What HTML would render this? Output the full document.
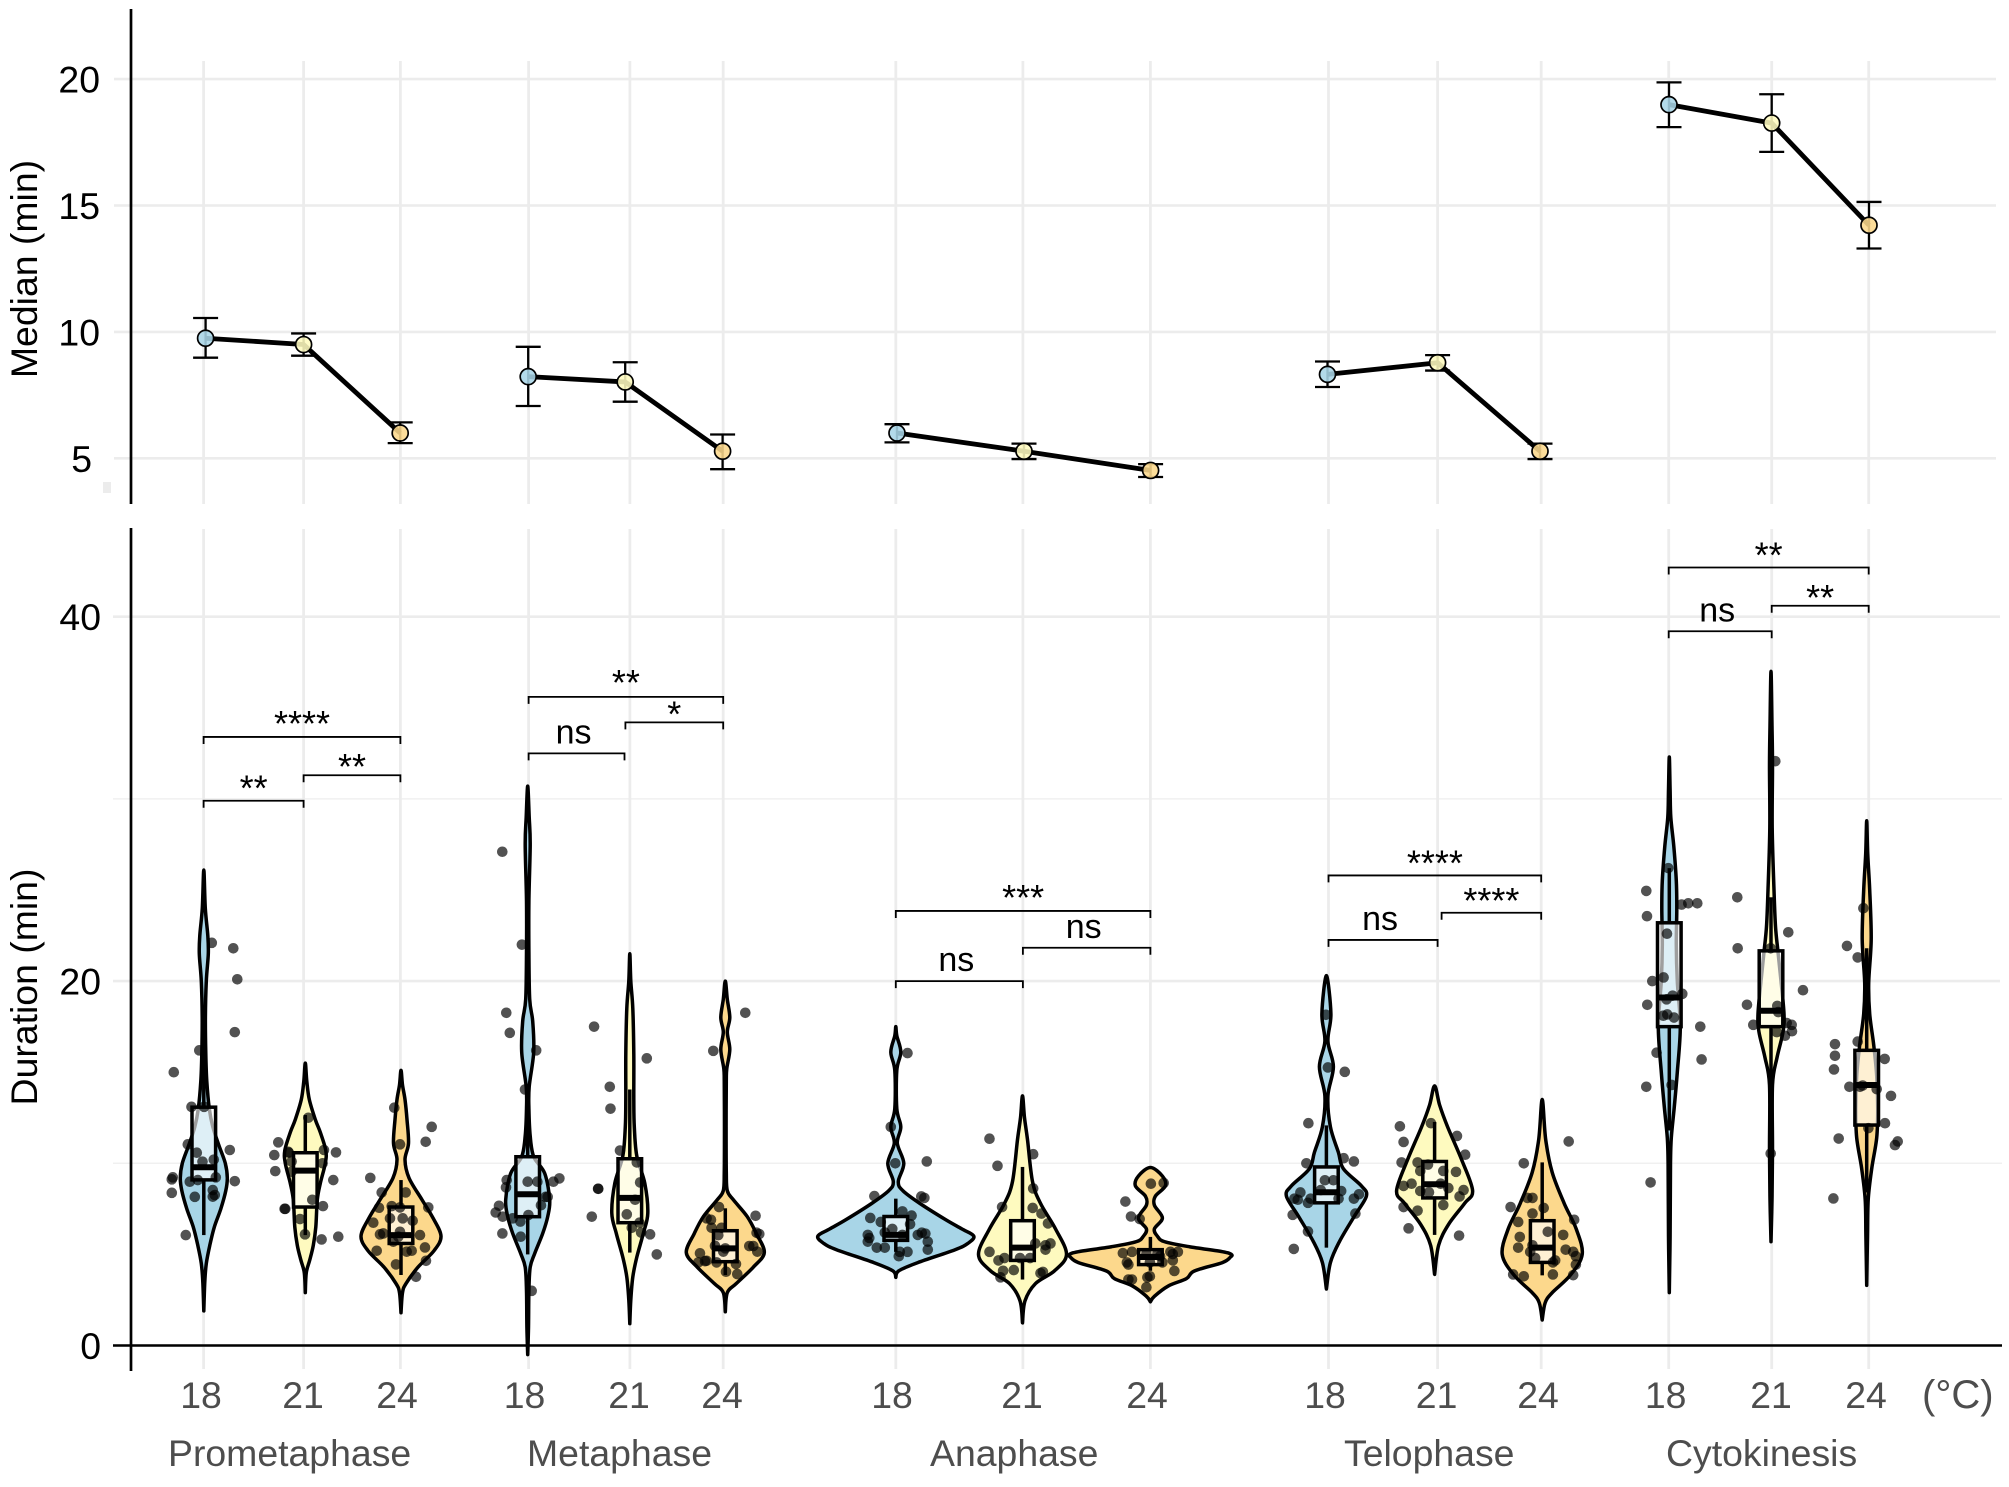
<!DOCTYPE html>
<html lang="en">
<head>
<meta charset="utf-8">
<title>Mitotic phase duration by temperature</title>
<style>
html,body{margin:0;padding:0;background:#fff;}
svg{display:block;font-family:"Liberation Sans",Arial,sans-serif;}
</style>
</head>
<body>
<svg id="chart" xmlns="http://www.w3.org/2000/svg" width="2009" height="1487" viewBox="0 0 2009 1487">
  <rect x="0" y="0" width="2009" height="1487" fill="#fff"/>
  <g id="grid-layer"></g>
  <rect x="103" y="482" width="8" height="11" fill="#ececec"/>
  <g id="top-layer"></g>
  <g id="violin-layer"></g>
  <g id="bracket-layer"></g>
  <g id="axis-layer">
    <line x1="131" y1="9" x2="131" y2="504" stroke="#000" stroke-width="2.7"/>
    <line x1="131" y1="528" x2="131" y2="1371" stroke="#000" stroke-width="2.7"/>
    <line x1="113" y1="1345.5" x2="2002" y2="1345.5" stroke="#000" stroke-width="2.6"/>
  </g>
  <g id="label-layer"></g>
  <text transform="translate(37,269) rotate(-90)" text-anchor="middle" font-size="37.4" fill="#000">Median (min)</text>
  <text transform="translate(37,987) rotate(-90)" text-anchor="middle" font-size="37.4" fill="#000">Duration (min)</text>
  <text x="1922" y="1408" font-size="40" fill="#4d4d4d">(°C)</text>
  <text x="168" y="1466" font-size="37.4" fill="#4d4d4d">Prometaphase</text>
  <text x="527" y="1466" font-size="37.4" fill="#4d4d4d">Metaphase</text>
  <text x="930" y="1466" font-size="37.4" fill="#4d4d4d">Anaphase</text>
  <text x="1344" y="1466" font-size="37.4" fill="#4d4d4d">Telophase</text>
  <text x="1666" y="1466" font-size="37.4" fill="#4d4d4d">Cytokinesis</text>
</svg>
<script>
/* ---------- chart data ---------- */
const temperatures = ['18', '21', '24'];
const medianTicks = [5, 10, 15, 20];
const durationMajorTicks = [0, 20, 40];
const durationMinorTicks = [10, 30];

// Top panel: medians with error bars, 15 conditions in phase order
const medianValues = [9.75, 9.5, 6.0, 8.23, 8.02, 5.28, 6.0, 5.28, 4.52, 8.32, 8.78, 5.28, 18.99, 18.26, 14.22];
const errorUpper = [10.55, 9.94, 6.42, 9.41, 8.8, 5.94, 6.35, 5.58, 4.77, 8.83, 9.08, 5.58, 19.87, 19.4, 15.14];
const errorLower = [8.98, 9.06, 5.6, 7.07, 7.24, 4.57, 5.63, 4.97, 4.26, 7.82, 8.47, 4.97, 18.1, 17.12, 13.3];

// Box plot statistics (minutes)
const boxQ1 = [9.09, 7.6, 5.6, 7.07, 6.74, 4.6, 5.77, 4.67, 4.44, 7.83, 8.1, 4.56, 17.5, 17.5, 12.1];
const boxMedian = [9.78, 9.6, 6.06, 8.3, 8.1, 5.33, 6.07, 5.37, 4.86, 8.41, 8.85, 5.37, 19.1, 18.37, 14.3];
const boxQ3 = [13.08, 10.58, 7.6, 10.36, 10.25, 6.3, 7.08, 6.85, 5.26, 9.8, 10.1, 6.85, 23.2, 21.66, 16.2];
const whiskerLow = [6.06, 6.06, 3.87, 5, 5.1, 3.87, 5.14, 3.62, 4.1, 5.37, 6.07, 3.85, 11.8, 14.1, 8.4];
const whiskerHigh = [17.1, 12.65, 9.08, 14.2, 14.05, 7.53, 8.06, 9.8, 5.96, 12.08, 12.27, 10.05, 26.2, 24.6, 21.8];

// Violin profiles: [minutes, density width]
const prometa18Density = [[1.9,0],[3.5,1],[4.5,2.5],[5.5,6],[6.5,10.5],[7.5,17],[8.5,22],[9.2,23.5],[10,21.5],[11,15],[12,9],[13,5.5],[14.5,3],[16,2],[18,1.6],[20,2.5],[21.5,4.5],[22.5,4],[24,1.5],[26.1,0]];
const prometa21Density = [[2.9,0],[4,1],[4.7,4.5],[5.5,8],[6.5,10.5],[8,12],[8.9,15],[10,20],[10.7,20.5],[11.7,15],[12.4,10],[13.5,4],[14.5,1.5],[15.5,0]];
const prometa24Density = [[1.8,0],[2.9,1.5],[3.4,5],[4.3,17],[5.2,33],[6,40],[7,32],[8,21],[9.2,8],[10.2,4],[11.1,7.5],[12.4,6],[13.5,4],[14.3,1.5],[15.1,0]];
const meta18Density = [[-0.5,0],[1,0.8],[3,1.2],[4.3,2.5],[5.05,7],[6.15,15],[7.07,20],[8,22],[9.45,17],[10.36,6],[11.5,2.5],[13,1.2],[14.2,1.5],[16.1,6],[17.8,5],[19,2],[21.6,1.2],[24.4,1.2],[27.5,2.5],[29,1.5],[30.7,0]];
const meta21Density = [[1.2,0],[2.5,1],[3.76,3],[4.85,7],[6.15,13.5],[7.26,18],[8.9,15],[10.4,7],[12,4.5],[13.5,4],[16,4],[18.5,3],[20,1],[21.5,0]];
const meta24Density = [[1.85,0],[2.9,2],[3.4,11],[4.3,28],[5.1,39],[6.15,31],[7.07,22],[8,8],[8.5,2],[9.5,1],[12,0.8],[14.5,1],[15.2,1.5],[16.25,4.5],[17.2,2],[18,4.5],[19,2],[20,0]];
const ana18Density = [[3.74,0],[4.1,3],[4.55,22],[5.25,59],[5.6,72],[6,78],[6.4,66],[6.9,50],[7.8,24],[8.5,7],[9,2.5],[10,8],[11.1,1.5],[12,5],[13,1],[15.1,1],[16.1,5],[17,1],[17.5,0]];
const ana21Density = [[1.24,0],[2.45,2.5],[3.4,13],[4.1,32],[5,44],[6.4,33],[7.8,18],[9,10],[11.3,5],[12.5,2],[13.7,0]];
const ana24Density = [[2.4,0],[2.7,4],[3.27,18],[3.67,36],[4.09,44],[4.55,72],[4.85,80],[5,81],[5.15,72],[5.42,39],[5.7,14],[6,7],[6.4,4],[7,12],[7.7,4],[8.2,5],[8.76,15],[9.3,12],[9.77,0]];
const telo18Density = [[3.1,0],[4.55,4],[5.7,13],[7.1,28],[8.2,40],[8.76,35],[9.7,17],[10.6,12],[12,4],[13.7,1.5],[15.3,7],[16.7,1.5],[18.2,4.5],[20.3,0]];
const telo21Density = [[3.9,0],[5.5,4],[6.65,14],[7.8,30],[8.5,38],[10.2,27],[12,13],[13.2,5],[14.25,0]];
const telo24Density = [[1.4,0],[2.35,3],[2.9,10],[3.85,28],[5,40],[6.4,34],[7.8,22],[9.5,10],[11.3,3.5],[13.5,0]];
const cyto18Density = [[2.9,0],[6,0.8],[10,1.2],[11.4,2],[13.1,5],[15,8],[17.5,11],[20,8],[22,7],[24,7.5],[25.5,7],[27.4,4.5],[29,1.5],[30.5,0.8],[32.3,0]];
const cyto21Density = [[5.7,0],[8,1],[10.7,1.5],[14.3,1.5],[15.8,6],[17.2,12],[18.2,13],[20,10],[21.6,7],[23,4.5],[25,3],[28.4,1.2],[31.8,1.5],[34,1],[37,0]];
const cyto24Density = [[3.3,0],[6,0.8],[8,1.5],[9.7,5],[11.4,10],[13,11],[14.8,10],[16.5,7],[18.2,3],[19.9,2],[22.3,4.5],[25,3],[27,1],[28.8,0]];

// Individual observations: [jitter, minutes]
const prometa18Obs = [[8,22.1],[29.5,21.8],[33.5,20.1],[31,17.2],[-4.5,16.2],[-30,15],[-12.3,13.1],[0.3,13.1],[-16,11.04],[-7,10.58],[-1.3,10.09],[10,10.2],[26,10.73],[-31,9.23],[-32,9.12],[-14,8.99],[-6,9.08],[12,9.23],[31,9.02],[-32,8.38],[-9,8.16],[9,8.53],[11,8.26],[9,8.17],[-18,6.06]];
const prometa21Obs = [[3,12.5],[-27,11.15],[-31,10.45],[-17,10.63],[-16.5,10.58],[18.7,10.73],[30.7,10.6],[-13.7,10.1],[17.3,10],[-30,9.57],[-13.7,9.54],[28,9.08],[7,8],[-20.7,7.5],[-20,7.5],[17.7,7.65],[-5.3,6.94],[-0.3,6.1],[16.3,5.82],[33,5.97]];
const prometa24Obs = [[-6.7,13.05],[30.7,12],[24.7,11.18],[-1,11.04],[-30.7,9.2],[-19.3,8.4],[4.7,8.4],[-22,7.56],[-9.3,7.65],[-1,7.58],[27.3,7.58],[-11,6.98],[1.7,6.98],[-27.7,6.74],[11.7,6.85],[-21,6.1],[-17.7,6.15],[-1,6.24],[-2.7,5.97],[19,6.06],[-7.7,5.7],[-24.3,5.2],[5.7,5.15],[10.7,5.2],[24,5.38],[-5,4.45],[25,4.65],[15,3.77]];
const meta18Obs = [[-25.4,27.1],[-5.8,22],[-21.4,18.26],[-17.9,17.16],[8.5,16.2],[-2.7,14.05],[-21,9.08],[-21.7,8.68],[0,8.99],[9.7,8.99],[25.7,8.99],[31.7,9.17],[20,8.16],[18,8.16],[13.3,7.7],[-28.7,7.67],[-32,7.3],[-25,7.07],[0.7,7.16],[-15,6.98],[-7.3,6.8],[-25.3,6.15],[-7,5.97],[4,3]];
const meta21Obs = [[-35.7,17.5],[17,15.76],[-20,14.2],[-19.3,13],[-9.8,10.7],[7,10.05],[10.3,8.95],[-31.7,8.6],[-31.5,8.6],[5.3,8],[-38,7.07],[-3,7.2],[9.7,6.74],[2,6.46],[11.3,6.2],[20.3,6.1],[27,5]];
const meta24Obs = [[20,18.26],[-12,16.17],[-6.3,7.6],[30.3,7.12],[-18.7,6.98],[-14.3,6.9],[-13.7,6.46],[-3.7,6.46],[31.3,6.19],[34,6.12],[-7,6.06],[-10.3,5.47],[24,5.46],[28,5.46],[0,5.33],[-2,5.15],[-25.3,5.06],[32,5.15],[-27,4.56],[-20.3,4.63],[-18.7,4.65],[-8.7,4.56],[10.7,4.47],[0.7,4.05],[12,3.92]];
const ana18Obs = [[11.7,16.05],[-5,12],[-0.5,10],[31,10.1],[-21.4,8.2],[25.5,8.18],[28.6,8.1],[-25.5,7],[15.8,7.13],[6.6,7.36],[-15,6.78],[-3.5,6.4],[14.3,6.66],[-28,6.07],[-26.5,5.9],[-28,5.7],[-11,6.2],[-11,5.37],[-19,5.37],[26,6.19],[29.6,6.14],[22,6.07],[6.6,6.07],[32,5.7],[11.7,5.14],[32,5.26],[3,4.9],[4,5.14]];
const ana21Obs = [[-33,11.35],[-25,9.86],[10.7,10.5],[10.7,8.62],[-20.4,7.6],[10.2,7.55],[19,7.24],[25.5,6.7],[28,5.6],[23,5.5],[12.8,5.6],[-33,5.14],[23,5.26],[-18,4.8],[-24,4.67],[-2.5,4.8],[7.6,4.8],[-19.4,4.1],[-8.7,4.14],[20.4,4.04],[18,3.97],[-22,3.74]];
const ana24Obs = [[0.5,8.88],[13.3,8.92],[-25,7.9],[-19.4,7.08],[-10.7,6.94],[-27.5,5.07],[-18.4,5.14],[-23.5,4.56],[-22,4.44],[-4,5.02],[7,5.02],[20,5.14],[27.5,5.14],[22.4,5.02],[-0.5,4.56],[12,4.56],[22.4,4.67],[9.7,4.9],[24,4.09],[-3,3.74],[-22,3.62],[-18.4,3.62],[-0.5,3.8],[-4,3.2]];
const telo18Obs = [[-0.5,18.15],[1.5,15.26],[18.4,15.02],[-18,12.2],[-20,10],[17.3,10.28],[27.5,10.1],[-1.5,9.07],[7,9.07],[-26,8.4],[-5.6,8.53],[14.8,8.48],[32.6,8.3],[-32,8.06],[-28.6,8],[-15.8,8.06],[12.2,8.06],[27.5,8.06],[-33.7,7.17],[29,7.24],[-18.4,6.26],[-32.6,5.3],[-18.4,7.83]];
const telo21Obs = [[-34.7,12.03],[-3.6,12.2],[-31,11.17],[22.4,11.5],[30.6,10.47],[-33,10.05],[-17,10.05],[-6.6,9.93],[-14.3,9.58],[21.4,9.53],[8.7,9.58],[-23,8.88],[-31,8.76],[6,8.88],[13.8,8.64],[-14.3,8.48],[-5.6,8.41],[29,8.53],[25,8.18],[-31,7.6],[8.7,7.71],[-17,7.4],[-26,6.43],[24.5,6.03]];
const telo24Obs = [[26.5,11.2],[-18.4,10],[-14.8,8.1],[-9.7,8.1],[-31.6,7.6],[1.5,7.55],[32,6.9],[-24,6.78],[-9.7,7.24],[5.6,6.24],[21,6.07],[-22.4,5.96],[-9.7,5.5],[23.5,5.26],[31,5.14],[33.7,4.9],[-24,5.37],[-12,5.14],[10.7,4.56],[13,4.67],[33.7,4.44],[-7,4.8],[-29,3.9],[-18.4,3.8],[10.7,3.9],[31,3.86]];
const cyto18Obs = [[-23,24.95],[-22.3,23.56],[-1,26.2],[12.3,24.2],[19,24.27],[28,24.27],[-2.3,22.6],[-17,20],[-5.7,20.2],[-22,18.7],[-2.7,19],[3.3,19.2],[13,19.3],[-2,18.17],[-6,18.1],[4.7,18],[31,17.5],[32.3,15.7],[-12.7,16.07],[-23,14.2],[2.3,14.3],[-18.7,8.95]];
const cyto21Obs = [[4.3,32.07],[-33.7,24.6],[-33.3,21.8],[17.3,22.68],[-0.3,21.8],[32,19.5],[-24,18.7],[6.3,18.64],[7.3,18.3],[-17.7,17.6],[15.7,17.7],[20.7,17.6],[21,17.25],[5.7,17.2],[14,17],[-0.3,10.54]];
const cyto24Obs = [[-3.3,24],[-19.7,21.93],[-9,21.3],[-31.7,16.54],[-31.7,15.9],[-32.7,15.15],[-9,16.68],[18,15.73],[-17.3,14.2],[-6.7,14.2],[-4,14.27],[10,14.07],[24.3,13.7],[18.3,12.2],[1.7,11.93],[-28,11.36],[31,11.2],[28.3,11],[-33.3,8.07]];

// Significance comparisons: [from condition, to condition, bracket height (min), label]
const comparisons = [
  [0, 2, 33.4, '****'], [1, 2, 31.3, '**'], [0, 1, 29.9, '**'],
  [3, 5, 35.6, '**'], [4, 5, 34.2, '*'], [3, 4, 32.5, 'ns'],
  [6, 8, 23.85, '***'], [7, 8, 21.83, 'ns'], [6, 7, 20, 'ns'],
  [9, 11, 25.8, '****'], [10, 11, 23.75, '****'], [9, 10, 22.26, 'ns'],
  [12, 14, 42.7, '**'], [13, 14, 40.6, '**'], [12, 13, 39.2, 'ns']
];

const densityList = [prometa18Density, prometa21Density, prometa24Density, meta18Density, meta21Density, meta24Density, ana18Density, ana21Density, ana24Density, telo18Density, telo21Density, telo24Density, cyto18Density, cyto21Density, cyto24Density];
const obsList = [prometa18Obs, prometa21Obs, prometa24Obs, meta18Obs, meta21Obs, meta24Obs, ana18Obs, ana21Obs, ana24Obs, telo18Obs, telo21Obs, telo24Obs, cyto18Obs, cyto21Obs, cyto24Obs];

/* ---------- layout (not data) ---------- */
const layoutGridX = [203.6, 303.6, 400.4, 528.6, 629.9, 723.2, 895.8, 1022.9, 1150.4, 1328.5, 1437.6, 1541.2, 1668.7, 1771.7, 1868.7];
const layoutViolinX = [203.8, 305.3, 401, 527.7, 629.8, 725.3, 895.8, 1022.5, 1150.4, 1326.4, 1434.6, 1542.2, 1669.3, 1771, 1866.7];
const layoutPointX = [205.6, 303.6, 400.2, 528.2, 625.2, 722.6, 897, 1024, 1150.6, 1327.5, 1437.6, 1540, 1669, 1771.7, 1869];
const layoutLabelX = [201, 303, 397, 524.5, 629, 722, 892, 1022, 1147, 1325, 1436.6, 1538, 1665.7, 1771, 1866];
const layoutFills = ['#a8d5e7', '#fefabf', '#fcd88c'];
const conditionNames = ['prometaphase', 'metaphase', 'anaphase', 'telophase', 'cytokinesis'];
const layoutBracketStartNudge = [0, 0, 0, 0, -4.5, 0, 0, 0, 0, 0, 4, 0, 0, 0, 0];
const layoutBracketEndNudge = [0, 0, 0, 0, 0, -5.4, 0, 0, 0, 0, 0, 0, 0, 0, 0];
const layoutLabelYNudge = [-5, 0, -4, -6, 0, 0, -5, 0, 0, -4, -4, 0, -4, 0, 0];

function yMedian(v) { return 458.3 - (v - 5) * 25.28; }
function yDuration(v) { return 1345.5 - v * 18.22; }

const NS = 'http://www.w3.org/2000/svg';
function make(tag, attrs, parent) {
  const el = document.createElementNS(NS, tag);
  for (const k in attrs) el.setAttribute(k, attrs[k]);
  parent.appendChild(el);
  return el;
}
function conditionLabel(i) {
  return conditionNames[Math.floor(i / 3)] + '-' + temperatures[i % 3];
}
function smoothClosed(pts) {
  let d = 'M' + pts[0][0].toFixed(2) + ' ' + pts[0][1].toFixed(2);
  for (let i = 0; i < pts.length - 1; i++) {
    const p0 = pts[Math.max(0, i - 1)], p1 = pts[i], p2 = pts[i + 1], p3 = pts[Math.min(pts.length - 1, i + 2)];
    const c1x = p1[0] + (p2[0] - p0[0]) / 6, c1y = p1[1] + (p2[1] - p0[1]) / 6;
    const c2x = p2[0] - (p3[0] - p1[0]) / 6, c2y = p2[1] - (p3[1] - p1[1]) / 6;
    d += 'C' + c1x.toFixed(2) + ' ' + c1y.toFixed(2) + ' ' + c2x.toFixed(2) + ' ' + c2y.toFixed(2) + ' ' + p2[0].toFixed(2) + ' ' + p2[1].toFixed(2);
  }
  return d + 'Z';
}

/* ---------- gridlines ---------- */
const gridLayer = document.getElementById('grid-layer');
medianTicks.forEach(function (t) {
  const el = make('line', { x1: 114, x2: 1996, y1: yMedian(t), y2: yMedian(t), stroke: '#ececec', 'stroke-width': 2.6 }, gridLayer);
  
  
});
durationMajorTicks.forEach(function (t) {
  const el = make('line', { x1: 113, x2: 2000, y1: yDuration(t), y2: yDuration(t), stroke: '#ececec', 'stroke-width': 2.6 }, gridLayer);
  
  
});
durationMinorTicks.forEach(function (t) {
  const el = make('line', { x1: 113, x2: 2002, y1: yDuration(t), y2: yDuration(t), stroke: '#f0f0f0', 'stroke-width': 1.5 }, gridLayer);
  
  
});
layoutGridX.forEach(function (x, i) {
  const top = make('line', { x1: x, x2: x, y1: 61, y2: 504, stroke: '#ececec', 'stroke-width': 2.8 }, gridLayer);
  
  
  const bottom = make('line', { x1: x, x2: x, y1: 529, y2: 1369, stroke: '#ececec', 'stroke-width': 2.8 }, gridLayer);
  
  
});

/* ---------- top panel: medians ---------- */
const topLayer = document.getElementById('top-layer');
medianValues.forEach(function (v, i) {
  const x = layoutPointX[i];
  const stem = make('line', { x1: x, x2: x, y1: yMedian(errorUpper[i]), y2: yMedian(errorLower[i]), stroke: '#000', 'stroke-width': 2.3 }, topLayer);
  
  
  const capTop = make('line', { x1: x - 12.5, x2: x + 12.5, y1: yMedian(errorUpper[i]), y2: yMedian(errorUpper[i]), stroke: '#000', 'stroke-width': 2.3 }, topLayer);
  
  
  const capBottom = make('line', { x1: x - 12.5, x2: x + 12.5, y1: yMedian(errorLower[i]), y2: yMedian(errorLower[i]), stroke: '#000', 'stroke-width': 2.3 }, topLayer);
  
  
});
for (let g = 0; g < 5; g++) {
  const pts = [0, 1, 2].map(function (k) {
    const i = g * 3 + k;
    return layoutPointX[i] + ',' + yMedian(medianValues[i]).toFixed(2);
  }).join(' ');
  const line = make('polyline', { points: pts, fill: 'none', stroke: '#000', 'stroke-width': 4.8, 'stroke-linejoin': 'round' }, topLayer);
  
  
}
medianValues.forEach(function (v, i) {
  const dot = make('circle', { cx: layoutPointX[i], cy: yMedian(v), r: 8, fill: layoutFills[i % 3], 'fill-opacity': 0.88, stroke: '#000', 'stroke-width': 1.7 }, topLayer);
  
  
});

/* ---------- bottom panel: violins, boxes, observations ---------- */
const violinLayer = document.getElementById('violin-layer');
densityList.forEach(function (profile, i) {
  const cx = layoutViolinX[i];
  const left = profile.map(function (p) { return [cx - p[1], yDuration(p[0])]; });
  const right = profile.slice(1, -1).reverse().map(function (p) { return [cx + p[1], yDuration(p[0])]; });
  const outline = left.concat(right);
  outline.push(left[0]);
  const violin = make('path', { d: smoothClosed(outline), fill: layoutFills[i % 3], stroke: '#000', 'stroke-width': 3.5, 'stroke-linejoin': 'round' }, violinLayer);
  
  
});
boxMedian.forEach(function (m, i) {
  const cx = layoutViolinX[i], hw = 11.8;
  const whisk = make('line', { x1: cx, x2: cx, y1: yDuration(whiskerHigh[i]), y2: yDuration(boxQ3[i]), stroke: '#000', 'stroke-width': 3.5 }, violinLayer);
  
  
  const whiskLow = make('line', { x1: cx, x2: cx, y1: yDuration(boxQ1[i]), y2: yDuration(whiskerLow[i]), stroke: '#000', 'stroke-width': 3.5 }, violinLayer);
  
  
  const box = make('rect', { x: cx - hw, width: hw * 2, y: yDuration(boxQ3[i]), height: yDuration(boxQ1[i]) - yDuration(boxQ3[i]), fill: '#fff', 'fill-opacity': 0.62, stroke: '#000', 'stroke-width': 3.5 }, violinLayer);
  
  
  const med = make('line', { x1: cx - hw, x2: cx + hw, y1: yDuration(m), y2: yDuration(m), stroke: '#000', 'stroke-width': 6 }, violinLayer);
  
  
});
obsList.forEach(function (obs, i) {
  obs.forEach(function (o, j) {
    const dot = make('circle', { cx: layoutViolinX[i] + o[0], cy: yDuration(o[1]), r: 5.3, fill: '#000', 'fill-opacity': 0.68 }, violinLayer);
    
    
  });
});

/* ---------- significance brackets ---------- */
const bracketLayer = document.getElementById('bracket-layer');
comparisons.forEach(function (c, i) {
  const x1 = layoutGridX[c[0]] + layoutBracketStartNudge[i];
  const x2 = layoutGridX[c[1]] + layoutBracketEndNudge[i];
  const y = yDuration(c[2]);
  const path = make('path', { d: 'M' + x1 + ' ' + (y + 7) + 'V' + y + 'H' + x2 + 'V' + (y + 7), fill: 'none', stroke: '#000', 'stroke-width': 1.8 }, bracketLayer);
  
  
  const isNs = c[3] === 'ns';
  const label = make('text', { x: (x1 + x2) / 2 + (isNs ? -3 : 0), y: (isNs ? y - 10 : y + 4) + layoutLabelYNudge[i], 'text-anchor': 'middle', 'font-size': isNs ? 34 : 36, fill: '#000' }, bracketLayer);
  label.textContent = c[3];
  
  
});

/* ---------- tick labels ---------- */
const labelLayer = document.getElementById('label-layer');
medianTicks.forEach(function (t) {
  const el = make('text', { x: t === 5 ? 92 : 100, y: yMedian(t) + 13.5, 'text-anchor': 'end', 'font-size': 37.4, fill: '#000' }, labelLayer);
  el.textContent = String(t);
  
  
});
durationMajorTicks.forEach(function (t) {
  const el = make('text', { x: 101, y: yDuration(t) + 13.5, 'text-anchor': 'end', 'font-size': 37.4, fill: '#000' }, labelLayer);
  el.textContent = String(t);
  
  
});
layoutLabelX.forEach(function (x, i) {
  const el = make('text', { x: x, y: 1408, 'text-anchor': 'middle', 'font-size': 37.4, fill: '#4d4d4d' }, labelLayer);
  el.textContent = temperatures[i % 3];
  
  
});
</script>
</body>
</html>
